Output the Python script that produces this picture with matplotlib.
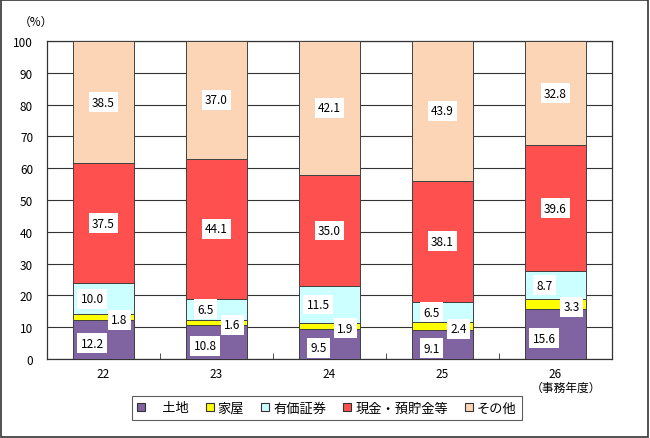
import numpy as np
import matplotlib.pyplot as plt
from matplotlib.patches import Patch, Rectangle

plt.rcParams['font.family'] = ['Noto Sans CJK JP', 'DejaVu Sans']

years = ['22', '23', '24', '25', '26']
series = ['土地', '家屋', '有価証券', '現金・預貯金等', 'その他']
land = [12.2, 10.8, 9.5, 9.1, 15.6]
house = [1.8, 1.6, 1.9, 2.4, 3.3]
secs = [10.0, 6.5, 11.5, 6.5, 8.7]
cash = [37.5, 44.1, 35.0, 38.1, 39.6]
other = [38.5, 37.0, 42.1, 43.9, 32.8]
colors = ['#8064A2', '#FFFF00', '#CCFFFF', '#FF5050', '#FBD5B5']

data = [land, house, secs, cash, other]
# label x shift per series (fraction of category spacing)
xshift = [-0.1, 0.14, -0.1, 0.0, 0.0]
yshift = [-1.2, -0.8, 0.0, 0.0, 0.0]

fig = plt.figure(figsize=(6.5, 4.39), dpi=100)
ax = fig.add_axes([47/650, 1-360/439, 565/650, 318/439])

x = np.arange(len(years))
bottom = np.zeros(len(years))
for vals, c, dx, dy in zip(data, colors, xshift, yshift):
    v = np.array(vals)
    ax.bar(x, v, 0.54, bottom=bottom, color=c, edgecolor='#404040', linewidth=0.7, zorder=3)
    for xi, b, val in zip(x, bottom, v):
        ax.text(xi + dx, b + val/2 + dy, f'{val:.1f}', ha='center', va='center', fontsize=8.5,
                bbox=dict(facecolor='white', edgecolor='none', pad=2.5), zorder=5)
    bottom += v

ax.set_xlim(-0.5, len(years) - 0.5)
ax.set_ylim(0, 100)
ax.set_yticks(np.arange(0, 101, 10))
ax.yaxis.grid(True, color='#333333', linewidth=0.8, zorder=0)
ax.set_axisbelow(True)
ax.tick_params(axis='y', length=0, pad=10, labelsize=8.5)
ax.set_xticks(x)
ax.set_xticklabels(years)
ax.tick_params(axis='x', length=0, pad=6, labelsize=8.5)
ax.set_xticks(np.arange(0.5, len(years) - 0.5), minor=True)
ax.tick_params(axis='x', which='minor', direction='in', length=4, color='#333333')
for s in ax.spines.values():
    s.set_color('#333333')
    s.set_linewidth(0.9)

fig.text(19/650, 1-22/439, '（%）', fontsize=8.5, va='center', ha='left')
fig.text(566/650, 1-388/439, '（事務年度）', fontsize=8.5, va='center', ha='center')

handles = [Patch(facecolor=c, edgecolor='#333333', linewidth=0.8) for c in colors]
labels = ['\u3000土地'] + series[1:]
leg = fig.legend(handles, labels, loc='center', bbox_to_anchor=(327/650, 1-409/439), ncol=5,
                 fontsize=9.5, frameon=True, fancybox=False, edgecolor='#333333',
                 handlelength=0.6, handleheight=0.6, handletextpad=0.3, columnspacing=1.3,
                 borderpad=0.4)
leg.get_frame().set_linewidth(0.8)

fig.patches.append(Rectangle((0.002, 0.003), 0.995, 0.994, transform=fig.transFigure,
                             fill=False, edgecolor='#333333', linewidth=1.2))

fig.savefig('out.png', dpi=100)
